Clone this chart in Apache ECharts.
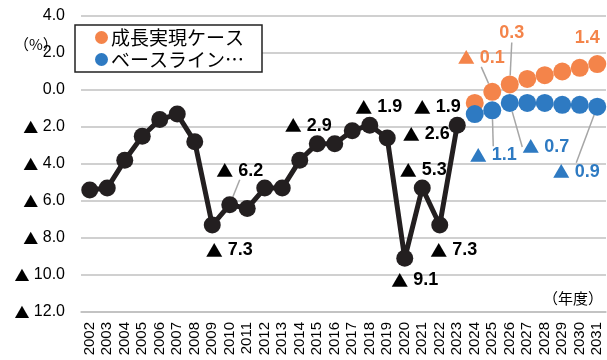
<!DOCTYPE html>
<html><head><meta charset="utf-8">
<script src="https://cdn.jsdelivr.net/npm/echarts@6/dist/echarts.min.js"></script>
<style>html,body{margin:0;padding:0;background:#fff}#c{width:607px;height:360px}</style>
</head><body><div id="c"></div>
<script>
const years = ['2002','2003','2004','2005','2006','2007','2008','2009','2010','2011','2012','2013','2014','2015','2016','2017','2018','2019','2020','2021','2022','2023','2024','2025','2026','2027','2028','2029','2030','2031'];
const actual = [-5.4,-5.3,-3.8,-2.5,-1.6,-1.3,-2.8,-7.3,-6.2,-6.4,-5.3,-5.3,-3.8,-2.9,-2.9,-2.2,-1.9,-2.6,-9.1,-5.3,-7.3,-1.9,null,null,null,null,null,null,null,null];
const growth = [null,null,null,null,null,null,null,null,null,null,null,null,null,null,null,null,null,null,null,null,null,null,-0.7,-0.1,0.3,0.6,0.8,1.0,1.2,1.4];
const baseline = [null,null,null,null,null,null,null,null,null,null,null,null,null,null,null,null,null,null,null,null,null,null,-1.3,-1.1,-0.7,-0.7,-0.7,-0.8,-0.8,-0.9];
const seriesNames = ['成長実現ケース','ベースライン…','実績'];
const yTicks = {min:-12, max:4, interval:2};

// label offsets (style only)
const offsets = {
  2: {7:[17,25],8:[10,-34],13:[-9,-18],16:[9,-18],17:[39,-4],18:[10,22],19:[1,-18],20:[14,25],21:[-20,-18]},
  0: {23:[-11,-34],24:[2,-51],29:[-10,-26]},
  1: {23:[1,45],24:[36,44],29:[-21,65]}
};
const leader = {2:[8],0:[23,24],1:[23,24,29]};

const ORANGE='#F4844A', BLUE='#2E7AC2', BLACK='#231F20';
function fmtRich(v){ return v<0 ? '{t|▲} '+Math.abs(v).toFixed(1) : v.toFixed(1); }
function mk(arr, si){
  return arr.map((v,i)=>{
    const o = offsets[si][i];
    const d = {value:v};
    if(o){ d.label={show:true}; d.labelLine={show: leader[si].includes(i)}; }
    return d;
  });
}
const font = '"Liberation Sans", Arial, sans-serif';
const chart = echarts.init(document.getElementById('c'), null, {renderer:'canvas'});
const labelBase = (color)=>({show:false, position:'inside', color:color, fontSize:18, fontWeight:'bold', fontFamily:font,
  formatter:p=>fmtRich(p.value), rich:{t:{fontFamily:'"Noto Sans CJK JP"', fontSize:17, color:color, fontWeight:'normal'}}});
const layout = si => (p)=>{ const o=offsets[si][p.dataIndex]; return o?{dx:o[0],dy:o[1]}:{}; };
chart.setOption({
  animation:false,
  grid:{left:81,right:1,top:16,bottom:48},
  legend:{
    data:[seriesNames[0],seriesNames[1]], orient:'vertical', left:75, top:25,
    backgroundColor:'#fff', borderColor:'#222', borderWidth:1.5, borderRadius:0,
    padding:[3,18,3,20], itemGap:3, icon:'circle', itemWidth:13, itemHeight:13,
    textStyle:{fontSize:19, color:'#000', fontFamily:'"Noto Sans CJK JP", sans-serif', padding:[0,0,0,-2]}
  },
  xAxis:{type:'category', data:years, boundaryGap:true,
    axisLine:{onZero:false, lineStyle:{color:'#BFBFBF', width:1.5}}, axisTick:{show:false},
    axisLabel:{interval:0, rotate:90, fontSize:15, color:'#000', fontFamily:font, margin:10}},
  yAxis:{type:'value', min:yTicks.min, max:yTicks.max, interval:yTicks.interval,
    axisLine:{show:false}, axisTick:{show:false},
    splitLine:{lineStyle:{color:'#C0C0C0', width:1.5}},
    axisLabel:{fontSize:16, color:'#000', fontFamily:font, margin:16, formatter:v=>fmtRich(v),
      rich:{t:{fontFamily:'"Noto Sans CJK JP"', fontSize:15, color:'#000'}}}},
  graphic:[
    {type:'text', left:14, top:37, style:{text:'（%）', fill:'#000', font:'15px "Noto Sans CJK JP"'}},
    {type:'text', right:4, top:291, style:{text:'（年度）', fill:'#000', font:'15px "Noto Sans CJK JP"'}}
  ],
  series:[
    {name:seriesNames[0], type:'line', data:mk(growth,0), symbol:'circle', symbolSize:18,
     lineStyle:{width:0}, itemStyle:{color:ORANGE}, label:labelBase(ORANGE),
     labelLine:{lineStyle:{color:'#A6A6A6', width:1.5}}, labelLayout:layout(0)},
    {name:seriesNames[1], type:'line', data:mk(baseline,1), symbol:'circle', symbolSize:18,
     lineStyle:{width:0}, itemStyle:{color:BLUE}, label:labelBase(BLUE),
     labelLine:{lineStyle:{color:'#A6A6A6', width:1.5}}, labelLayout:layout(1)},
    {name:seriesNames[2], type:'line', data:mk(actual,2), symbol:'circle', symbolSize:17,
     lineStyle:{width:5, color:BLACK}, itemStyle:{color:BLACK}, label:labelBase('#000'),
     labelLine:{lineStyle:{color:'#A6A6A6', width:1.5}}, labelLayout:layout(2), z:5}
  ]
});
</script></body></html>
